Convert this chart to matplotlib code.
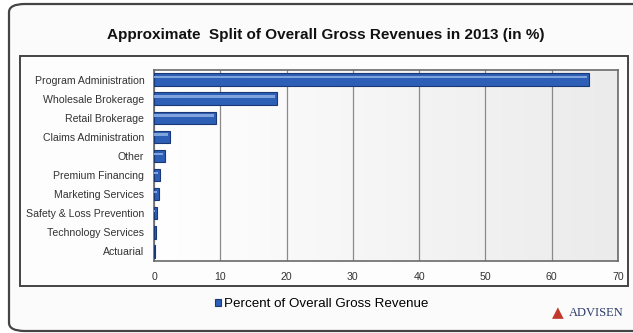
import matplotlib
matplotlib.use("Agg")
import matplotlib.pyplot as plt
from matplotlib.patches import FancyBboxPatch, Rectangle
import numpy as np

categories = ["Program Administration", "Wholesale Brokerage", "Retail Brokerage",
              "Claims Administration", "Other", "Premium Financing",
              "Marketing Services", "Safety & Loss Prevention",
              "Technology Services", "Actuarial"]
values = [65.6, 18.5, 9.3, 2.4, 1.6, 0.9, 0.8, 0.5, 0.3, 0.1]
xticks = [0, 10, 20, 30, 40, 50, 60, 70]
title = "Approximate  Split of Overall Gross Revenues in 2013 (in %)"
legend_label = "Percent of Overall Gross Revenue"

W, H = 633, 333
fig = plt.figure(figsize=(W/100, H/100), dpi=100)
fig.patch.set_facecolor("#ffffff")

# outer rounded panel
outer = FancyBboxPatch((9/W, 2/H), 640/W, 327/H, boxstyle="round,pad=0,rounding_size=0.025",
                       transform=fig.transFigure, facecolor="#fbfbfb", edgecolor="#444444",
                       linewidth=1.6, zorder=-2)
fig.patches.append(outer)
# inner chart frame
inner = Rectangle((20/W, (H-286)/H), 608/W, 230/H, transform=fig.transFigure,
                  facecolor="#fdfdfd", edgecolor="#444444", linewidth=1.4, zorder=-1)
fig.patches.append(inner)

fig.text(326/W, (H-35)/H, title, ha="center", va="center", fontsize=11,
         fontweight="bold", family="Liberation Sans", color="#111111")

ax = fig.add_axes([154/W, (H-261)/H, (618-154)/W, (261-70)/H])
ax.set_zorder(1)
# gradient background
grad = np.linspace(0, 1, 256).reshape(1, -1)
ax.imshow(np.vstack([grad, grad]), extent=[0, 70, -0.5, len(categories)-0.5], aspect="auto",
          cmap=matplotlib.colors.LinearSegmentedColormap.from_list("g", ["#ffffff", "#f5f5f5", "#ebebeb"]),
          zorder=0)

y = np.arange(len(categories))
ax.barh(y, values, height=0.65, color="#2c5fb5", edgecolor="#1a3876", linewidth=0.8,
        zorder=3, label=legend_label)
# highlight stripe for the glossy look
ax.barh(y - 0.12, [max(v - 0.3, 0) for v in values], height=0.12, color="#7fa3dc",
        linewidth=0, zorder=4)
ax.set_xlim(0, 70)
ax.set_ylim(len(categories)-0.5, -0.5)
ax.set_yticks(y)
ax.set_yticklabels(categories, fontsize=7.6, family="Liberation Sans", color="#333333")
ax.set_xticks(xticks)
ax.set_xticklabels([str(t) for t in xticks], fontsize=7.6, family="Liberation Sans", color="#333333")
ax.tick_params(length=0, pad=8)
ax.tick_params(axis="y", pad=7)
ax.xaxis.grid(True, color="#8a8a8a", linewidth=0.9, zorder=1)
ax.set_axisbelow(True)
for s in ax.spines.values():
    s.set_color("#6a6a6a")
    s.set_linewidth(1.2)

leg = fig.legend(loc="center", bbox_to_anchor=(322/W, (H-304)/H), frameon=False,
                 prop={"family": "Liberation Sans", "size": 9.6},
                 handlelength=0.45, handleheight=0.45, handletextpad=0.2)

fig.text(596/W, (H-313)/H, "ADVISEN", ha="center", va="center", fontsize=9,
         family="Liberation Serif", color="#2a3a6a")
fig.text(558/W, (H-313)/H, "\u25B2", ha="center", va="center", fontsize=11, color="#c0392b")

fig.savefig("out.png", dpi=100, facecolor=fig.get_facecolor())
